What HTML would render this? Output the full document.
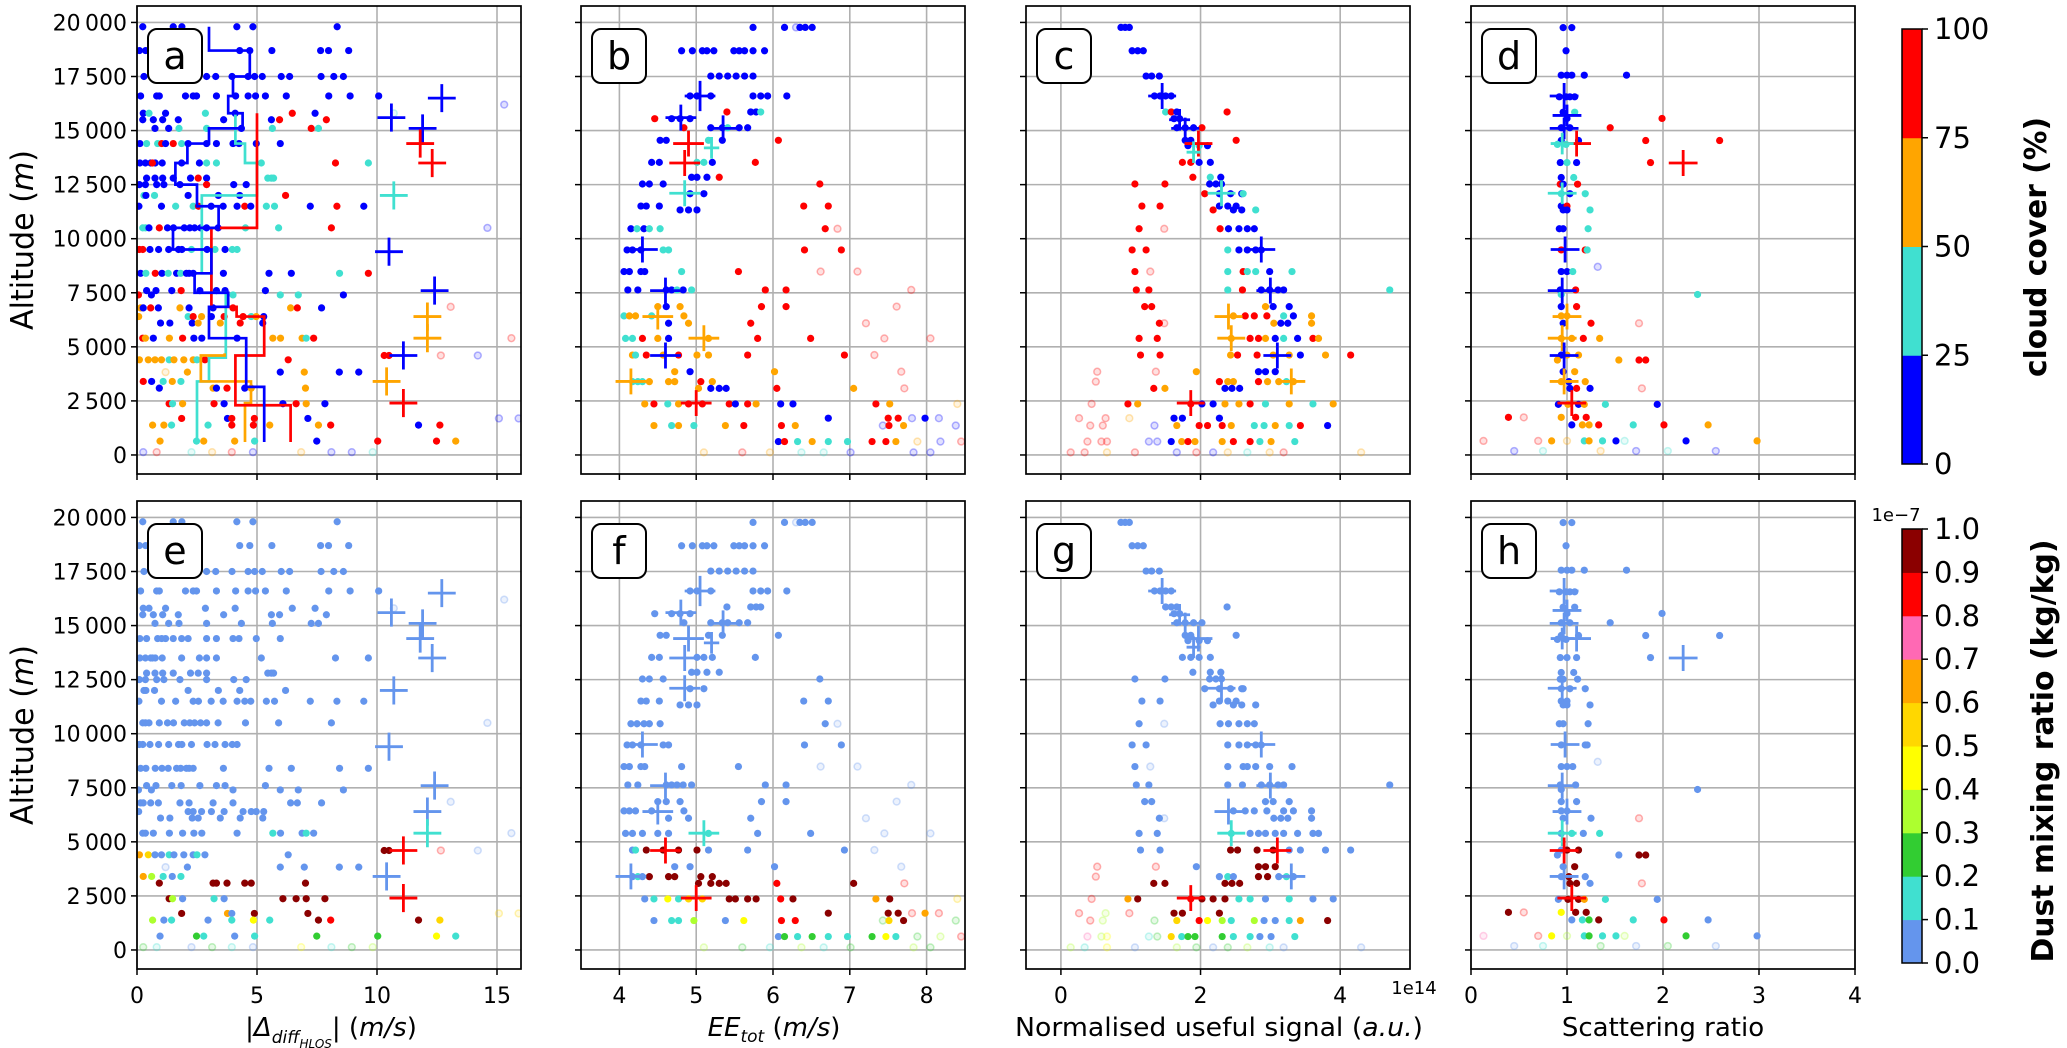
<!DOCTYPE html>
<html><head><meta charset="utf-8"><title>Wind error profiles vs cloud cover and dust</title>
<style>
html,body{margin:0;padding:0;background:#fff;}
svg{display:block;font-family:"DejaVu Sans","Liberation Sans",sans-serif;}
</style></head>
<body>
<svg id="fig" width="2067" height="1048" viewBox="0 0 2067 1048" xmlns="http://www.w3.org/2000/svg">
<rect x="0" y="0" width="2067" height="1048" fill="#fff"/>
</svg>
<script>
// ---------- DATA ----------
// points: [x, altitude (m), cloud cover (%), dust mixing ratio (1e-7 kg/kg)]
const ptsA = [
[.24,19800,10,.05],[1.51,19800,10,.05],[1.87,19800,10,.05],[4.16,19800,10,.05],[4.83,19800,10,.05],[8.34,19800,10,.05],
[.1,18700,10,.05],[.36,18700,10,.05],[4.28,18700,10,.05],[4.7,18700,10,.05],[5.62,18700,10,.05],[7.65,18700,10,.05],[7.98,18700,10,.05],[8.82,18700,10,.05],
[.29,17500,10,.05],[.65,17500,10,.05],[2.9,17500,10,.05],[3.28,17500,10,.05],[3.96,17500,10,.05],[4.63,17500,10,.05],[4.9,17500,10,.05],[5.22,17500,10,.05],[6.01,17500,10,.05],[6.36,17500,10,.05],[7.67,17500,10,.05],[8.2,17500,10,.05],[8.6,17500,10,.05],
[.15,16600,10,.05],[.82,16600,10,.05],[.93,16600,10,.05],[2.02,16600,10,.05],[2.34,16600,10,.05],[2.48,16600,10,.05],[3.31,16600,10,.05],[4.11,16600,10,.05],[4.63,16600,10,.05],[4.94,16600,10,.05],[5.35,16600,10,.05],[6.22,16600,10,.05],[7.99,16600,10,.05],[8.88,16600,10,.05],[10.07,16600,10,.05],
[.26,15800,10,.05],[.5,15800,35,.05],[1.19,15800,10,.05],[2.85,15800,35,.05],[4.09,15800,10,.05],[6.47,15800,90,.05],[7.42,15800,10,.05],
[.24,15500,10,.05],[.68,15500,10,.05],[1.07,15500,10,.05],[1.72,15500,10,.05],[3.61,15500,10,.05],[5.6,15500,10,.05],[5.94,15500,90,.05],[7.89,15500,90,.05],
[.75,15100,10,.05],[1.32,15100,10,.05],[1.75,15100,35,.05],[2.9,15100,35,.05],[4.35,15100,10,.05],[5.64,15100,35,.05],[7.26,15100,90,.05],[7.56,15100,35,.05],
[.12,14400,10,.05],[.4,14400,35,.05],[.86,14400,35,.05],[1.03,14400,90,.05],[1.19,14400,10,.05],[1.51,14400,90,.05],[1.86,14400,35,.05],[2.13,14400,10,.05],[2.9,14400,10,.05],[3.31,14400,10,.05],[4.0,14400,10,.05],[4.25,14400,10,.05],[4.97,14400,10,.05],[5.97,14400,10,.05],
[.12,13500,10,.05],[.35,13500,10,.05],[.57,13500,10,.05],[.76,13500,10,.05],[1.05,13500,10,.05],[.64,13500,90,.05],[1.86,13500,10,.05],[2.6,13500,10,.05],[2.9,13500,35,.05],[3.31,13500,35,.05],[5.18,13500,35,.05],[8.27,13500,90,.05],[9.64,13500,35,.05],
[.4,12800,10,.05],[.75,12800,10,.05],[1.07,12800,10,.05],[1.51,12800,10,.05],[2.23,12800,10,.05],[2.55,12800,90,.05],[2.9,12800,10,.05],[5.45,12800,35,.05],[5.6,12800,35,.05],[5.69,12800,35,.05],
[.1,12500,10,.05],[.35,12500,10,.05],[.82,12500,10,.05],[1.12,12500,10,.05],[1.79,12500,10,.05],[2.9,12500,90,.05],[4.03,12500,10,.05],[4.55,12500,10,.05],
[.29,12000,35,.05],[.37,12000,10,.05],[.73,12000,35,.05],[2.13,12000,10,.05],[3.39,12000,10,.05],[4.28,12000,10,.05],[6.19,12000,90,.05],
[.08,11500,10,.05],[1.02,11500,10,.05],[1.61,11500,35,.05],[2.34,11500,35,.05],[2.56,11500,90,.05],[3.09,11500,10,.05],[3.59,11500,10,.05],[4.17,11500,10,.05],[4.49,11500,90,.05],[4.74,11500,10,.05],[5.39,11500,35,.05],[5.73,11500,35,.05],[7.22,11500,10,.05],[8.33,11500,90,.05],[9.45,11500,10,.05],
[.24,10500,35,.05],[.35,10500,35,.05],[.5,10500,10,.05],[.93,10500,90,.05],[1.27,10500,10,.05],[1.52,10500,10,.05],[1.97,10500,10,.05],[2.2,10500,10,.05],[2.4,10500,10,.05],[2.65,10500,10,.05],[2.9,10500,10,.05],[3.38,10500,10,.05],[4.52,10500,35,.05],[5.9,10500,35,.05],[8.1,10500,90,.05],
[.1,9500,90,.05],[.24,9500,90,.05],[.54,9500,10,.05],[.9,9500,10,.05],[1.32,9500,10,.05],[1.73,9500,10,.05],[1.87,9500,10,.05],[2.27,9500,35,.05],[2.92,9500,10,.05],[3.25,9500,35,.05],[3.67,9500,10,.05],[3.97,9500,35,.05],[4.17,9500,35,.05],
[.15,8400,10,.05],[.37,8400,35,.05],[.76,8400,90,.05],[1.04,8400,10,.05],[1.3,8400,35,.05],[1.65,8400,10,.05],[1.82,8400,35,.05],[2.06,8400,10,.05],[2.17,8400,10,.05],[2.34,8400,10,.05],[3.6,8400,10,.05],[5.5,8400,10,.05],[6.43,8400,10,.05],[8.44,8400,35,.05],[9.64,8400,90,.05],
[.4,7600,10,.05],[.79,7600,10,.05],[1.45,7600,10,.05],[1.84,7600,90,.05],[2.62,7600,10,.05],[3.31,7600,10,.05],[3.67,7600,10,.05],[5.35,7600,10,.05],
[.06,7400,90,.05],[.6,7400,10,.05],[4.0,7400,35,.05],[5.97,7400,35,.05],[6.72,7400,35,.05],[8.6,7400,10,.05],
[.15,6800,60,.05],[.26,6800,10,.05],[.57,6800,90,.05],[.89,6800,10,.05],[1.79,6800,60,.05],[2.17,6800,10,.05],[3.17,6800,10,.05],[4.0,6800,90,.05],[6.4,6800,60,.05],[6.68,6800,90,.05],[7.69,6800,10,.05],
[.07,6400,60,.05],[2.13,6400,35,.05],[2.34,6400,90,.05],[2.69,6400,60,.05],[3.1,6400,10,.05],[3.63,6400,90,.05],[4.42,6400,90,.05],[4.76,6400,35,.05],[4.97,6400,60,.05],[5.28,6400,10,.05],
[.98,6100,10,.05],[1.37,6100,10,.05],[2.3,6100,10,.05],[2.55,6100,60,.05],[3.47,6100,60,.05],[4.3,6100,90,.05],[5.24,6100,10,.05],
[.24,5400,90,.05],[.35,5400,60,.05],[.68,5400,10,.05],[1.35,5400,60,.05],[1.9,5400,90,.05],[2.37,5400,10,.05],[2.7,5400,10,.05],[4.17,5400,10,.05],[5.66,5400,60,.15],[5.98,5400,60,.05],[6.88,5400,60,.05],[7.05,5400,35,.15],[7.36,5400,90,.05],
[.1,4400,60,.65],[.47,4400,60,.55],[.75,4400,60,.05],[1.02,4400,60,.05],[1.34,4400,35,.15],[1.54,4400,60,.05],[1.95,4400,60,.05],[2.34,4400,60,.05],[2.5,4400,35,.15],[2.83,4400,90,.05],[6.3,4400,90,.05],[10.3,4600,90,.95],[10.5,4600,90,.95],
[2.1,3830,60,.05],[5.97,3830,10,.05],[6.97,3830,60,.05],[8.43,3830,10,.05],[9.24,3830,10,.05],
[.26,3400,90,.65],[.61,3400,10,.35],[1.09,3400,35,.15],[1.47,3400,60,.05],[1.83,3400,35,.15],
[.93,3090,10,.95],[3.17,3090,60,.95],[3.31,3090,10,.95],[3.75,3090,90,.95],[4.49,3090,10,.95],[4.76,3090,60,.95],[7.02,3090,60,.95],
[1.34,2370,90,.95],[1.48,2370,35,.35],[1.9,2370,60,.05],[3.21,2370,90,.15],[3.63,2370,10,.05],[6.08,2370,10,.95],[6.63,2370,90,.95],[7.05,2370,60,.95],[7.83,2370,10,.95],
[1.86,1690,90,.95],[3.77,1690,10,.65],[3.95,1690,90,.05],[4.89,1690,90,.95],[7.12,1690,10,.95],
[.65,1380,60,.35],[1.12,1380,60,.05],[1.44,1380,35,.15],[2.96,1380,35,.05],[3.95,1380,90,.15],[4.85,1380,90,.45],[5.53,1380,60,.15],[7.56,1380,60,.95],[8.07,1380,90,.85],[11.73,1380,10,.95],[12.62,1380,90,.55],
[.96,640,60,.05],[2.48,640,35,.25],[2.78,640,60,.15],[4.07,640,60,.05],[4.9,640,35,.15],[7.49,640,10,.25],[10.03,640,90,.25],[12.48,640,90,.45],[13.28,640,60,.15]
];
const fadedA = [
[.26,130,10,.25],[.82,130,90,.15],[2.27,130,35,.05],[3.13,130,60,.25],[3.95,130,90,.15],[4.83,130,10,.05],[6.84,130,60,.45],[8.1,130,10,.15],[8.95,130,10,.25],[9.82,130,35,.35],
[15.08,1690,10,.55],[15.9,1690,10,.55],[15.6,5400,90,.05],[13.07,6850,90,.05],[12.66,4600,90,.85],[14.2,4600,10,.05],[1.19,3830,60,.05],[10.7,15800,35,.05],[14.6,10500,10,.05],[15.3,16200,10,.05]
];
const ptsB = [
[5.74,19770,10,.05],[6.15,19770,10,.05],[6.35,19770,10,.05],[6.42,19770,10,.05],[6.51,19770,10,.05],
[4.81,18690,10,.05],[4.95,18690,10,.05],[5.08,18690,10,.05],[5.14,18690,10,.05],[5.23,18690,10,.05],[5.49,18690,10,.05],[5.56,18690,10,.05],[5.63,18690,10,.05],[5.74,18690,10,.05],[5.89,18690,10,.05],
[5.19,17520,10,.05],[5.3,17520,10,.05],[5.41,17520,10,.05],[5.52,17520,10,.05],[5.63,17520,10,.05],[5.74,17520,10,.05],
[4.92,16600,10,.05],[5.01,16600,10,.05],[5.19,16600,10,.05],[5.74,16600,10,.05],[5.84,16600,10,.05],[5.93,16600,10,.05],[6.18,16600,10,.05],
[5.4,15860,90,.05],[5.71,15860,10,.05],[5.78,15860,10,.05],[5.84,15860,35,.05],
[4.46,15550,90,.05],[4.68,15550,10,.05],[4.79,15550,10,.05],[4.92,15550,10,.05],
[4.84,15130,90,.05],[5.19,15130,10,.05],[5.34,15130,10,.05],[5.41,15130,35,.05],[5.56,15130,10,.05],[5.67,15130,10,.05],
[4.53,14550,10,.05],[4.61,14550,10,.05],[5.16,14550,35,.05],[5.34,14550,10,.05],[6.07,14550,90,.05],
[4.42,13530,10,.05],[4.52,13530,10,.05],[5.01,13530,35,.05],[5.1,13530,35,.05],[5.21,13530,10,.05],[5.77,13530,90,.05],
[4.94,12840,10,.05],[5.01,12840,10,.05],[5.14,12840,10,.05],[5.3,12840,90,.05],
[4.3,12530,10,.05],[4.39,12530,10,.05],[4.57,12530,10,.05],[6.61,12530,90,.05],
[4.92,12080,10,.05],[5.1,12080,10,.05],
[4.28,11510,10,.05],[4.35,11510,10,.05],[4.52,11510,10,.05],[6.4,11510,90,.05],[6.72,11510,90,.05],
[4.79,11330,10,.05],[4.9,11330,10,.05],[5.01,11330,10,.05],
[4.15,10460,10,.05],[4.23,10460,35,.05],[4.32,10460,10,.05],[4.39,10460,35,.05],[4.53,10460,35,.05],[6.68,10460,90,.05],
[4.1,9480,10,.05],[4.17,9480,10,.05],[4.28,9480,10,.05],[4.57,9480,35,.05],[4.64,9480,35,.05],[6.41,9480,90,.05],[6.89,9480,90,.05],
[4.06,8480,10,.05],[4.13,8480,10,.05],[4.28,8480,10,.05],[4.33,8480,10,.05],[4.81,8480,35,.05],[5.55,8480,90,.05],
[4.11,7630,10,.05],[4.24,7630,10,.05],[4.61,7630,10,.05],[4.68,7630,10,.05],[4.83,7630,10,.05],[4.75,7630,35,.05],[4.94,7630,35,.05],[5.9,7630,90,.05],[6.17,7630,90,.05],
[4.5,6860,60,.05],[4.61,6860,10,.05],[4.79,6860,60,.05],[5.85,6860,90,.05],[6.17,6860,90,.05],
[4.06,6430,35,.05],[4.13,6430,60,.05],[4.21,6430,60,.05],[4.42,6430,35,.05],[4.84,6430,60,.05],
[4.64,6090,10,.05],[4.9,6090,60,.05],[5.71,6090,90,.05],
[4.08,5390,35,.05],[4.17,5390,35,.05],[4.3,5390,90,.05],[4.5,5390,60,.05],[4.64,5390,10,.05],[5.16,5390,60,.15],[5.8,5390,90,.05],[6.49,5390,90,.05],
[4.17,4620,60,.05],[4.21,4620,35,.15],[4.35,4620,90,.95],[4.57,4620,60,.95],[4.77,4620,90,.95],[5.01,4620,60,.95],[5.16,4620,60,.05],[5.67,4620,90,.05],[6.93,4620,90,.05],
[4.72,3850,60,.05],[4.92,3850,10,.05],[6.02,3850,60,.05],
[4.17,3390,35,.05],[4.24,3390,35,.15],[4.3,3390,35,.05],[4.39,3390,60,.95],[4.64,3390,60,.95],[4.72,3390,60,.95],[5.06,3390,90,.95],[5.21,3390,60,.95],
[5.03,3080,60,.95],[5.19,3080,10,.95],[5.3,3080,10,.95],[5.39,3080,10,.95],[6.05,3080,90,.85],[7.05,3080,60,.95],
[4.33,2360,60,.05],[4.45,2360,90,.15],[4.63,2360,35,.45],[4.77,2360,60,.15],[4.9,2360,90,.55],[5.08,2360,90,.55],[5.43,2360,90,.95],[5.51,2360,10,.95],[5.67,2360,90,.95],[5.78,2360,60,.95],[6.1,2360,10,.85],[6.26,2360,10,.95],[7.34,2360,90,.65],[7.52,2360,60,.95],
[6.72,1700,10,.95],[7.5,1700,90,.95],[7.63,1700,90,.95],[7.98,1700,10,.65],
[4.45,1360,60,.05],[4.68,1360,35,.15],[4.77,1360,60,.15],[4.97,1360,35,.35],[5.38,1360,60,.05],[5.62,1360,90,.45],[6.11,1360,90,.85],[6.29,1360,60,.85],[7.51,1360,90,.55],[7.7,1360,60,.95],
[6.07,620,10,.05],[6.15,620,90,.25],[6.32,620,35,.15],[6.51,620,60,.25],[6.72,620,35,.15],[6.97,620,35,.15],[7.29,620,90,.25],[7.47,620,90,.45],[7.6,620,60,.15]
];
const fadedB = [
[6.3,19770,10,.05],[6.84,10460,90,.05],[6.62,8480,90,.05],[7.1,8480,90,.05],[7.8,7630,90,.05],[7.61,6860,90,.05],[7.21,6090,90,.05],[7.45,5390,90,.05],[8.05,5390,90,.05],[7.32,4620,90,.05],[7.67,3850,90,.05],[7.71,3080,90,.85],[8.4,2360,60,.55],
[7.81,1700,10,.85],[8.16,1700,10,.85],[7.43,1360,10,.25],[8.38,1360,10,.25],[7.88,620,60,.25],[8.18,620,10,.35],[8.45,620,90,.85],
[5.1,120,60,.35],[5.6,120,90,.25],[5.96,120,60,.15],[6.37,120,35,.35],[6.66,120,35,.15],[7.01,120,10,.25],[7.83,120,10,.35],[8.05,120,10,.25]
];
const ptsC = [
[.86,19770,10,.05],[.92,19770,10,.05],[.98,19770,10,.05],
[1.02,18690,10,.05],[1.1,18690,10,.05],[1.18,18690,10,.05],
[1.22,17520,10,.05],[1.3,17520,10,.05],[1.41,17520,10,.05],
[1.34,16600,10,.05],[1.42,16600,10,.05],[1.5,16600,10,.05],[1.58,16600,10,.05],
[1.5,15860,35,.05],[1.58,15860,90,.05],[1.66,15860,10,.05],[2.38,15860,90,.05],
[1.62,15550,10,.05],[1.7,15550,10,.05],
[1.66,15130,10,.05],[1.78,15130,10,.05],[1.9,15130,10,.05],[2.02,15130,90,.05],
[1.78,14550,10,.05],[1.86,14550,10,.05],[2.51,14550,90,.05],
[1.82,14300,10,.05],[1.98,14300,35,.05],[2.1,14300,10,.05],
[1.74,13530,90,.05],[1.86,13530,90,.05],[1.98,13530,10,.05],[2.14,13530,10,.05],
[1.89,12840,90,.05],[2.14,12840,35,.05],[2.29,12840,10,.05],
[1.06,12530,90,.05],[1.49,12530,90,.05],[2.13,12530,10,.05],[2.22,12530,10,.05],[2.3,12530,10,.05],
[2.06,12080,90,.05],[2.27,12080,10,.05],[2.43,12080,10,.05],[2.59,12080,10,.05],[2.61,12080,35,.05],
[1.16,11510,90,.05],[1.42,11510,90,.05],[2.27,11510,10,.05],[2.39,11510,10,.05],[2.51,11510,10,.05],
[2.18,11330,90,.05],[2.47,11330,10,.05],[2.59,11330,10,.05],[2.79,11330,35,.05],
[1.12,10460,90,.05],[2.28,10460,90,.05],[2.4,10460,10,.05],[2.55,10460,10,.05],[2.67,10460,10,.05],[2.77,10460,10,.05],
[1.02,9480,90,.05],[1.22,9480,90,.05],[2.39,9480,35,.05],[2.55,9480,10,.05],[2.67,9480,10,.05],[2.79,9480,10,.05],[2.87,9480,10,.05],
[1.06,8480,90,.05],[2.39,8480,35,.05],[2.61,8480,90,.05],[2.67,8480,35,.05],[2.79,8480,35,.05],[2.99,8480,10,.05],[3.31,8480,35,.05],
[1.08,7630,90,.05],[1.26,7630,90,.05],[2.39,7630,35,.05],[2.6,7630,90,.05],[2.87,7630,10,.05],[2.99,7630,10,.05],[3.11,7630,10,.05],[3.19,7630,10,.05],[4.71,7630,35,.05],
[1.2,6860,90,.05],[1.3,6860,90,.05],[2.93,6860,60,.05],[3.04,6860,10,.05],[3.27,6860,10,.05],
[2.47,6430,60,.05],[2.64,6430,90,.05],[2.77,6430,90,.05],[2.95,6430,90,.05],[3.19,6430,35,.05],[3.33,6430,10,.05],[3.59,6430,60,.05],
[1.41,6090,90,.05],[3.05,6090,60,.05],[3.15,6090,10,.05],[3.25,6090,10,.05],[3.59,6090,60,.05],
[1.12,5390,90,.05],[1.38,5390,90,.05],[2.44,5390,60,.15],[2.71,5390,90,.05],[2.83,5390,90,.05],[2.93,5390,60,.05],[3.07,5390,10,.05],[3.19,5390,35,.05],[3.39,5390,10,.05],[3.61,5390,90,.05],[3.69,5390,60,.05],
[1.14,4620,90,.05],[1.42,4620,90,.05],[2.43,4620,60,.95],[2.53,4620,90,.95],[2.81,4620,90,.95],[3.04,4620,60,.95],[3.27,4620,60,.05],[3.43,4620,10,.05],[3.79,4620,60,.05],[4.15,4620,90,.05],
[1.94,3850,60,.05],[2.83,3850,10,.95],[2.93,3850,10,.95],[3.07,3850,10,.95],
[2.27,3390,90,.05],[2.39,3390,60,.15],[2.47,3390,60,.05],[2.83,3390,90,.95],[2.96,3390,60,.95],[3.12,3390,60,.05],[3.23,3390,35,.15],[3.33,3390,60,.05],
[1.33,3080,90,.95],[1.49,3080,60,.95],[2.35,3080,10,.95],[2.45,3080,10,.95],[2.56,3080,10,.95],
[.96,2360,90,.65],[1.1,2360,60,.95],[1.86,2360,90,.85],[2.02,2360,10,.95],[2.18,2360,10,.95],[2.35,2360,60,.95],[2.55,2360,60,.15],[2.71,2360,90,.15],[2.93,2360,35,.05],[3.27,2360,60,.15],[3.61,2360,35,.05],[3.9,2360,60,.05],
[1.62,1700,10,.95],[1.74,1700,10,.95],[2.27,1700,10,.95],
[1.66,1360,60,.55],[1.98,1360,90,.85],[2.1,1360,90,.45],[2.31,1360,90,.35],[2.44,1360,60,.15],[2.77,1360,35,.35],[2.91,1360,35,.05],[3.07,1360,60,.05],[3.27,1360,35,.15],[3.43,1360,90,.65],[3.82,1360,10,.95],
[1.58,620,10,.55],[1.73,620,60,.15],[1.82,620,90,.25],[1.92,620,60,.25],[2.31,620,60,.25],[2.47,620,90,.15],[2.71,620,90,.15],[2.85,620,35,.05],[3.01,620,60,.05],[3.35,620,35,.15]
];
const fadedC = [
[1.48,10460,90,.05],[1.28,8480,90,.05],[1.48,6090,90,.05],[.52,3850,90,.85],[1.36,3850,90,.85],[.5,3390,90,.85],[.44,2360,90,.85],
[.26,1700,90,.85],[.64,1700,90,.35],[.98,1700,60,.85],[.42,1360,90,.85],[.6,1360,90,.35],[1.34,1360,10,.25],
[.38,620,90,.75],[.58,620,90,.35],[.66,620,90,.45],[1.26,620,10,.15],[1.38,620,10,.25],
[.14,120,90,.35],[.34,120,90,.15],[.66,120,60,.45],[1.06,120,90,.05],[1.66,120,10,.35],[1.94,120,90,.25],[2.18,120,10,.05],[2.39,120,60,.25],[2.67,120,35,.35],[2.99,120,60,.15],[3.19,120,90,.05],[4.3,120,60,.05]
];
const ptsD = [
[.96,19760,10,.05],[1.05,19760,10,.05],[.99,18690,10,.05],
[.94,17560,10,.05],[1.0,17560,10,.05],[1.05,17560,10,.05],[1.18,17560,10,.05],[1.62,17560,10,.05],
[.92,16560,10,.05],[.99,16560,10,.05],[1.03,16560,10,.05],[1.08,16560,10,.05],
[.96,15850,10,.05],[1.08,15850,35,.05],[1.0,15560,10,.05],[1.99,15560,90,.05],
[.94,15130,10,.05],[1.03,15130,10,.05],[1.45,15130,90,.05],
[.94,14540,10,.05],[1.12,14540,10,.05],[1.82,14540,90,.05],[2.59,14540,90,.05],
[.9,14360,35,.05],[.99,14360,35,.05],
[.93,13520,10,.05],[1.0,13520,35,.05],[1.1,13520,10,.05],[1.87,13520,90,.05],
[.94,12830,10,.05],[1.07,12830,35,.05],
[.93,12520,90,.05],[.96,12520,10,.05],[1.11,12520,90,.05],
[.94,12080,35,.05],[1.03,12080,10,.05],[1.19,12080,35,.05],
[.94,11510,10,.05],[1.0,11510,90,.05],[.96,11330,10,.05],[1.0,11330,10,.05],[1.24,11330,35,.05],
[.92,10460,10,.05],[.96,10460,10,.05],[1.22,10460,35,.05],
[.94,9480,90,.05],[1.19,9480,90,.05],[1.21,9480,35,.05],
[.94,8480,10,.05],[1.0,8480,10,.05],[1.06,8480,35,.05],
[.93,7630,10,.05],[1.09,7630,90,.05],[.94,7420,35,.05],[2.36,7420,35,.05],
[.94,6860,10,.05],[1.1,6860,90,.05],[.94,6430,60,.05],[1.0,6430,60,.05],
[.96,6090,10,.05],[1.25,6090,90,.05],
[.94,5390,60,.05],[1.05,5390,60,.15],[1.17,5390,90,.05],[1.34,5390,60,.15],
[.94,4620,10,.05],[1.0,4620,60,.95],[1.12,4620,60,.95],
[.9,4390,60,.05],[1.54,4390,60,.05],[1.75,4390,90,.95],[1.82,4390,90,.95],
[.96,3850,10,.05],[1.08,3850,60,.95],
[.94,3390,60,.05],[1.02,3390,10,.95],[1.19,3390,60,.05],
[1.03,3080,10,.95],[1.1,3080,90,.95],[1.24,3080,10,.05],
[.91,2340,10,.05],[1.01,2340,60,.95],[1.12,2340,10,.95],[1.18,2340,60,.65],[1.4,2340,35,.15],[1.94,2340,10,.05],
[.39,1740,90,.95],[.94,1740,60,.45],[1.09,1740,90,.95],[1.2,1740,90,.95],
[1.05,1390,10,.05],[1.16,1390,60,.15],[1.23,1390,60,.25],[1.33,1390,90,.95],[1.69,1390,35,.15],[2.01,1390,90,.85],[2.47,1390,60,.05],
[.84,650,60,.45],[1.18,650,35,.15],[1.23,650,60,.25],[1.37,650,35,.15],[1.51,650,10,.15],[2.24,650,10,.25],[2.98,650,60,.05]
];
const fadedD = [
[1.75,6090,90,.85],[1.78,3080,90,.85],[1.32,8700,10,.05],[.55,1740,90,.85],
[.13,650,90,.75],[.7,650,90,.85],[1.0,650,60,.35],[1.6,650,35,.35],
[.45,185,10,.05],[.75,185,35,.15],[1.35,185,60,.25],[1.72,185,10,.05],[2.05,185,35,.25],[2.55,185,10,.05]
];
// error-bar crosses: [x, altitude, x-error, altitude-error, cloud cover, dust]
const crossA = [[12.7,16500,.58,650,10,.05],[10.6,15600,.58,650,10,.05],[11.9,15100,.58,650,10,.05],[11.8,14400,.58,650,90,.05],[12.3,13500,.58,650,90,.05],[10.7,12000,.58,650,35,.05],[10.5,9400,.58,650,10,.05],[12.4,7600,.58,650,10,.05],[12.1,6400,.58,650,60,.05],[12.1,5400,.58,650,60,.15],[11.1,4600,.58,650,10,.85],[10.4,3400,.58,650,60,.05],[11.1,2400,.58,650,90,.85]];
const crossB = [[5.05,16600,.2,700,10,.05],[4.8,15600,.2,600,10,.05],[5.35,15100,.2,600,10,.05],[4.9,14400,.2,600,90,.05],[4.85,13500,.2,600,90,.05],[5.2,14200,.1,500,35,.05],[4.85,12100,.2,600,35,.05],[4.3,9500,.2,600,10,.05],[4.6,7600,.2,600,10,.05],[4.5,6400,.2,600,60,.05],[5.1,5400,.2,600,60,.15],[4.6,4600,.2,600,10,.85],[4.15,3400,.2,600,60,.05],[5.0,2400,.2,600,90,.85]];
const crossC = [[1.45,16600,.2,600,10,.05],[1.7,15500,.15,500,10,.05],[1.78,15100,.2,500,10,.05],[1.97,14400,.2,600,90,.05],[1.9,14000,.1,500,35,.05],[2.3,12100,.2,600,35,.05],[2.87,9500,.2,600,10,.05],[3.0,7600,.2,600,10,.05],[2.4,6400,.2,600,60,.05],[2.44,5400,.2,600,60,.15],[3.1,4600,.2,600,10,.85],[3.3,3400,.2,600,60,.05],[1.86,2400,.2,600,90,.85]];
const crossD = [[.97,16600,.15,600,10,.05],[1.0,15700,.15,500,10,.05],[.97,15100,.15,500,10,.05],[1.1,14400,.15,600,90,.05],[.95,14400,.12,500,35,.05],[2.21,13500,.15,600,90,.05],[.95,12100,.15,500,35,.05],[.98,9500,.15,600,10,.05],[.95,7600,.15,600,10,.05],[1.0,6400,.15,600,60,.05],[.95,5400,.15,600,60,.15],[.97,4600,.15,600,10,.85],[.97,3400,.15,600,60,.05],[1.05,2400,.15,600,90,.85]];
// median step profiles in panel a: [x, altitude top, altitude bottom]
const stepBlue = [[3.0,19800,18700],[4.7,18700,17500],[4.0,17500,16600],[3.8,16600,15800],[4.4,15800,15100],[3.0,15100,14400],[2.1,14400,13500],[1.6,13500,12500],[2.5,12500,11500],[3.4,11500,10500],[1.5,10500,9500],[3.1,9500,8400],[2.4,8400,7500],[3.8,7500,6850],[3.0,6850,5400],[4.55,5400,3150],[5.3,3150,600]];
const stepCyan = [[4.1,15800,14400],[4.5,14400,13500],[5.0,13500,12000],[2.7,12000,8400],[3.1,8400,7500],[3.7,7500,4500],[3.0,4500,3400],[2.5,3400,600]];
const stepRed = [[5.0,15800,10500],[3.1,10500,6850],[4.15,6850,6400],[5.3,6400,4600],[4.1,4600,2300],[6.4,2300,600]];
const stepOrange = [[3.65,4700,4600],[2.66,4600,3400],[4.75,3400,2400],[4.5,2400,600]];
// axes
const ticksA = [0,5,10,15], ticksB = [4,5,6,7,8], ticksC = [0,2,4], ticksD = [0,1,2,3,4];
const altTicks = [0,2500,5000,7500,10000,12500,15000,17500,20000];
const cloudTicks = [0,25,50,75,100];
const dustTicks = [0,.1,.2,.3,.4,.5,.6,.7,.8,.9,1.0];
const cloudBands = ['#0000ff','#40e0d0','#ffa500','#ff0000'];
const dustBands = ['#6495ed','#40e0d0','#32cd32','#adff2f','#ffff00','#ffd700','#ffa500','#ff69b4','#ff0000','#8b0000'];

// ---------- RENDER ----------
const NS='http://www.w3.org/2000/svg';
const svg=document.getElementById('fig');
function mk(tag,attrs,parent){const e=document.createElementNS(NS,tag);for(const k in attrs)e.setAttribute(k,attrs[k]);(parent||svg).appendChild(e);return e;}
const cloudColor=v=>cloudBands[Math.min(3,Math.floor(v/25))];
const dustColor=v=>dustBands[Math.min(9,Math.floor(v*10+1e-9))];
const colL=[137,581,1026,1471], colW=384;
const rowT=[6,501], rowH=468;
const altMin=-880, altMax=20760;
const domains=[[0,16],[3.5,8.5],[-0.5,5],[0,4]];
const tickSets=[ticksA,ticksB,ticksC,ticksD];
const pts=[ptsA,ptsB,ptsC,ptsD], faded=[fadedA,fadedB,fadedC,fadedD], crosses=[crossA,crossB,crossC,crossD];
const letters=[['a','b','c','d'],['e','f','g','h']];

for(let r=0;r<2;r++){for(let c=0;c<4;c++){
  const L=colL[c],T=rowT[r],d=domains[c];
  const sx=v=>L+(v-d[0])/(d[1]-d[0])*colW;
  const sy=a=>T+rowH-(a-altMin)/(altMax-altMin)*rowH;
  const g=mk('g',{});
  
  
  const clipId='clip'+r+c;
  const cp=mk('clipPath',{id:clipId},g); mk('rect',{x:L,y:T,width:colW,height:rowH},cp);
  // grid
  for(const t of tickSets[c]){const l=mk('line',{x1:sx(t),x2:sx(t),y1:T,y2:T+rowH,stroke:'#b0b0b0','stroke-width':1.6},g);}
  for(const a of altTicks){const l=mk('line',{x1:L,x2:L+colW,y1:sy(a),y2:sy(a),stroke:'#b0b0b0','stroke-width':1.6},g);}
  const pg=mk('g',{'clip-path':'url(#'+clipId+')'},g);
  const col=p=>r===0?cloudColor(p[2]):dustColor(p[3]);
  for(const p of faded[c]){const e=mk('circle',{cx:sx(p[0]),cy:sy(p[1]),r:3.4,fill:col(p),'fill-opacity':.12,stroke:col(p),'stroke-opacity':.3,'stroke-width':1.5},pg);}
  for(const p of pts[c]){const e=mk('circle',{cx:sx(p[0]),cy:sy(p[1]),r:3.6,fill:col(p)},pg);}
  if(c===0&&r===0){
    const steps=[[stepCyan,'#40e0d0'],[stepOrange,'#ffa500'],[stepRed,'#ff0000'],[stepBlue,'#0000ff']];
    for(const [s,clr] of steps){let dd='';s.forEach((seg,i)=>{dd+=(i?'L':'M')+sx(seg[0])+' '+sy(seg[1])+' L'+sx(seg[0])+' '+sy(seg[2])+' ';});
      const e=mk('path',{d:dd,fill:'none',stroke:clr,'stroke-width':2.7},pg);}
  }
  for(const x of crosses[c]){const clr=r===0?cloudColor(x[4]):dustColor(x[5]);
    const e=mk('path',{d:'M'+sx(x[0]-x[2])+' '+sy(x[1])+' L'+sx(x[0]+x[2])+' '+sy(x[1])+' M'+sx(x[0])+' '+sy(x[1]+x[3])+' L'+sx(x[0])+' '+sy(x[1]-x[3]),stroke:clr,'stroke-width':2.8,fill:'none'},pg);
    }
  // frame
  const fr=mk('rect',{x:L,y:T,width:colW,height:rowH,fill:'none',stroke:'#000','stroke-width':1.7},g);
  // ticks
  for(const a of altTicks){mk('line',{x1:L-6,x2:L,y1:sy(a),y2:sy(a),stroke:'#000','stroke-width':1.5},g);
    if(c===0){const t=mk('text',{x:L-10,y:sy(a)+8,'text-anchor':'end','font-size':22},g);t.textContent=a===0?'0':String(a).replace(/(\d+)(\d{3})$/,'$1\u2009$2');}}
  for(const t of tickSets[c]){mk('line',{x1:sx(t),x2:sx(t),y1:T+rowH,y2:T+rowH+6,stroke:'#000','stroke-width':1.5},g);
    if(r===1){const e=mk('text',{x:sx(t),y:T+rowH+34,'text-anchor':'middle','font-size':22},g);e.textContent=String(t);}}
  // panel letter box
  const bx=mk('rect',{x:L+11,y:T+23,width:54,height:54,rx:9,fill:'#fff',stroke:'#000','stroke-width':2},g);
  const lt=mk('text',{x:L+38,y:T+63,'text-anchor':'middle','font-size':38},g);lt.textContent=letters[r][c];
}}

// y-axis titles
for(const cy of [240,735]){const t=mk('text',{x:0,y:0,transform:'translate(33,'+cy+') rotate(-90)','text-anchor':'middle','font-size':31,textLength:180,lengthAdjust:'spacingAndGlyphs'});
  t.innerHTML='Altitude (<tspan font-style="italic">m</tspan>)';}
// x-axis titles
const xt1=mk('text',{x:331,y:1036,'text-anchor':'middle','font-size':26});
xt1.innerHTML='|<tspan font-style="italic">Δ</tspan><tspan font-style="italic" font-size="17" dy="7">diff</tspan><tspan font-style="italic" font-size="12" dy="5">HLOS</tspan><tspan dy="-12">| (</tspan><tspan font-style="italic">m/s</tspan>)';

const xt2=mk('text',{x:774,y:1036,'text-anchor':'middle','font-size':26});
xt2.innerHTML='<tspan font-style="italic">EE</tspan><tspan font-style="italic" font-size="17" dy="6">tot</tspan><tspan dy="-6"> (</tspan><tspan font-style="italic">m/s</tspan>)';

const xt3=mk('text',{x:1219,y:1036,'text-anchor':'middle','font-size':26,textLength:408,lengthAdjust:'spacingAndGlyphs'});
xt3.innerHTML='Normalised useful signal (<tspan font-style="italic">a.u.</tspan>)';

const xt4=mk('text',{x:1663,y:1036,'text-anchor':'middle','font-size':26});xt4.textContent='Scattering ratio';

const off=mk('text',{x:1414,y:994,'text-anchor':'middle','font-size':18});off.textContent='1e14';

// colorbars
function colorbar(y0,y1,bands,ticks,vmax,fmt,name){
  const g=mk('g',{});
  const x0=1902,w=20,n=bands.length,h=(y1-y0)/n;
  bands.forEach((clr,i)=>{const e=mk('rect',{x:x0,y:y1-(i+1)*h,width:w,height:h+0.5,fill:clr},g);});
  mk('rect',{x:x0,y:y0,width:w,height:y1-y0,fill:'none',stroke:'#000','stroke-width':1.5},g);
  for(const t of ticks){const y=y1-(t/vmax)*(y1-y0);mk('line',{x1:x0+w,x2:x0+w+6,y1:y,y2:y,stroke:'#000','stroke-width':1.5},g);
    const e=mk('text',{x:x0+w+12,y:y+10,'font-size':29},g);e.textContent=fmt(t);}
}
colorbar(29,464,cloudBands,cloudTicks,100,t=>String(t),'cloud-cover-colorbar');
colorbar(529,963,dustBands,dustTicks,1,t=>t.toFixed(1),'dust-colorbar');
const e7=mk('text',{x:1896,y:521,'text-anchor':'middle','font-size':18});e7.textContent='1e\u22127';
const cb1=mk('text',{x:0,y:0,transform:'translate(2046,247) rotate(-90)','text-anchor':'middle','font-size':30,'font-weight':'bold',textLength:260,lengthAdjust:'spacingAndGlyphs'});
cb1.textContent='cloud cover (%)';
const cb2=mk('text',{x:0,y:0,transform:'translate(2053,751) rotate(-90)','text-anchor':'middle','font-size':30,'font-weight':'bold',textLength:423,lengthAdjust:'spacingAndGlyphs'});
cb2.textContent='Dust mixing ratio (kg/kg)';
</script>
</body></html>
